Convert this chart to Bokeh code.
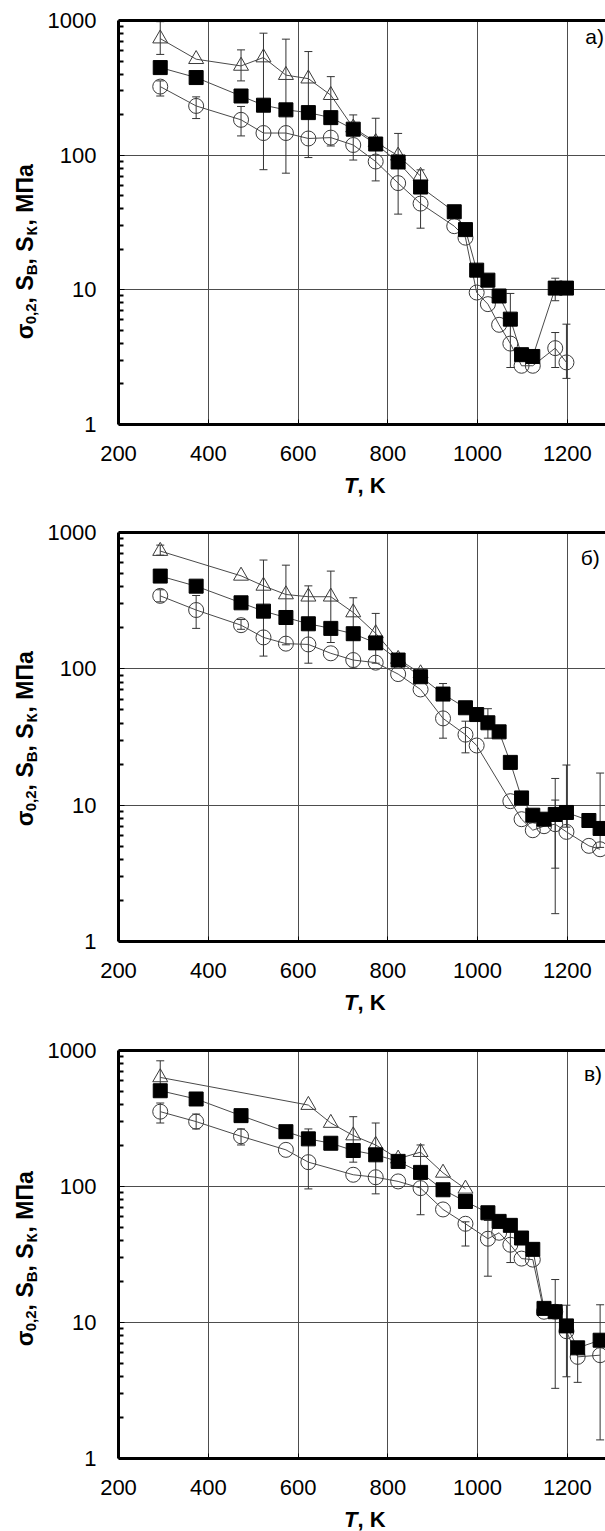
import numpy as np
from bokeh.plotting import figure
from bokeh.models import (ColumnDataSource, Whisker, TeeHead, Label, FixedTicker,
                          LinearAxis, CustomJSTickFormatter, Range1d)
from bokeh.layouts import column, row
from bokeh.embed import file_html
from bokeh.resources import INLINE

# ---------------- data ----------------
x_ticks = [200, 400, 600, 800, 1000, 1200]
y_ticks = [1, 10, 100, 1000]
panel_letters = ["а)", "б)", "в)"]

# panel а
a_sq_T = [293, 373, 473, 523, 573, 623, 673, 723, 773, 823, 873, 948, 973, 998, 1023, 1048, 1073, 1098, 1123, 1173, 1198]
a_sq = [447, 377, 275, 235, 217, 207, 190, 156, 121, 89, 58, 38, 28, 14, 11.8, 9.0, 6.06, 3.3, 3.2, 10.3, 10.3]
a_ci_T = [293, 373, 473, 523, 573, 623, 673, 723, 773, 823, 873, 948, 973, 998, 1023, 1048, 1073, 1098, 1123, 1173, 1198]
a_ci = [323, 232, 183, 146, 146, 133, 135, 119, 89.7, 62, 43.7, 29.7, 24.4, 9.55, 7.83, 5.5, 3.99, 2.73, 2.73, 3.69, 2.89]
a_tr_T = [293, 373, 473, 523, 573, 623, 673, 723, 773, 823, 873]
a_tr = [734, 516, 460, 531, 393, 370, 279, 160, 125, 99, 70]
a_err_T = [293, 293, 373, 473, 473, 523, 573, 623, 673, 723, 773, 823, 873, 1073, 1173, 1173, 1198]
a_err_lo = [560, 275, 187, 356, 139, 78, 73.5, 96, 117, 92, 64.4, 36.5, 28.7, 2.65, 8.3, 2.65, 2.2]
a_err_hi = [980, 356, 271, 605, 230, 805, 727, 588, 383, 199, 188, 145, 77.8, 9.4, 12.2, 4.82, 5.56]

# panel б
b_sq_T = [293, 373, 473, 523, 573, 623, 673, 723, 773, 823, 873, 923, 973, 998, 1023, 1048, 1073, 1098, 1123, 1148, 1173, 1198, 1248, 1273]
b_sq = [479, 404, 305, 265, 238, 214, 198, 181, 155, 116, 87.5, 65.3, 51.8, 46.2, 40.2, 34.5, 20.6, 11.3, 8.44, 7.89, 8.55, 8.84, 7.72, 6.75]
b_ci_T = [293, 373, 473, 523, 573, 623, 673, 723, 773, 823, 873, 923, 973, 998, 1073, 1098, 1123, 1148, 1173, 1198, 1248, 1273]
b_ci = [343, 270, 209, 170, 153, 151, 130, 116, 111, 91.5, 70.6, 43.3, 32.9, 27.4, 10.7, 7.89, 6.55, 7.01, 7.25, 6.37, 5.03, 4.75]
b_tr_T = [293, 473, 523, 573, 623, 673, 723, 773, 823, 873]
b_tr = [731, 481, 406, 351, 338, 338, 259, 182, 118, 92.5]
b_err_T = [293, 293, 373, 473, 523, 573, 623, 673, 723, 773, 923, 973, 1023, 1173, 1173, 1198, 1273]
b_err_lo = [682, 310, 198, 195, 124, 150, 110, 156, 101, 110, 31, 24.2, 31, 1.6, 3.45, 6.9, 4.9]
b_err_hi = [808, 380, 345, 230, 628, 576, 406, 521, 332, 255, 78, 41.3, 51, 15.7, 10.9, 19.7, 17.2]

# panel в
c_sq_T = [293, 373, 473, 573, 623, 673, 723, 773, 823, 873, 923, 973, 1023, 1048, 1073, 1098, 1123, 1148, 1173, 1198, 1223, 1273]
c_sq = [506, 440, 332, 253, 224, 208, 184, 171, 153, 127, 94.6, 77.6, 64.1, 55.4, 51.8, 41.8, 34.5, 12.7, 12.0, 9.44, 6.51, 7.41]
c_ci_T = [293, 373, 473, 573, 623, 723, 773, 823, 873, 923, 973, 1023, 1048, 1073, 1098, 1123, 1148, 1173, 1198, 1223, 1273]
c_ci = [355, 300, 234, 186, 151, 122, 117, 109, 97.3, 67.8, 53.2, 41.3, 45.7, 37.3, 29.5, 29.0, 12.0, 12.0, 8.63, 5.59, 5.75]
c_tr_T = [293, 623, 673, 723, 773, 823, 873, 923, 973]
c_tr = [634, 397, 293, 237, 202, 160, 179, 126, 96.2]
c_err_T = [293, 293, 373, 473, 623, 723, 773, 873, 973, 1023, 1073, 1173, 1198, 1223, 1273]
c_err_lo = [540, 293, 265, 202, 96, 151, 88.3, 62, 36.5, 21.9, 27.6, 3.28, 3.99, 3.63, 1.37]
c_err_hi = [840, 411, 341, 265, 265, 326, 293, 202, 55, 56.3, 46.8, 20.7, 13.4, 7.0, 13.5]

# ---------------- layout constants ----------------
PAGE_W = 605
YLAB_W = 42
MAIN_W = PAGE_W - YLAB_W
BORDER_L = 76                # frame left at page x 118
X0, X1 = 200, 1285
FONT = "Liberation Sans"
BOTTOM = 48

CHAR_W = {"σ": 0.62, "0": 0.556, "2": 0.556, ",": 0.278, " ": 0.278, "S": 0.667,
          "В": 0.722, "К": 0.722, "М": 0.833, "П": 0.722, "а": 0.556}
MID = 0.3465   # em distance from baseline to the middle of the font box


def blank_fig(w, h, top=0, bottom=0):
    fh = h - top - bottom
    f = figure(width=w, height=h, x_range=Range1d(0, w), y_range=Range1d(0, fh),
               x_axis_type=None, y_axis_type=None, output_backend="svg",
               toolbar_location=None, min_border=0, min_border_left=0,
               min_border_right=0, min_border_top=top, min_border_bottom=bottom)
    f.outline_line_color = None
    f.xgrid.visible = False
    f.ygrid.visible = False
    return f


def ylabel_fig(h, top, bottom, start_from_frame_top):
    # frame of this figure lines up with the frame of the neighbouring plot
    f = blank_fig(YLAB_W, h, top, bottom)
    fh = h - top - bottom
    big, small = 23, 15
    base_big, base_sub = 32.5, 36.0
    segs = [("σ", False), ("0,2", True), (", S", False), ("В", True),
            (", S", False), ("К", True), (", МПа", False)]
    off = 0.0
    for txt, sub in segs:
        fs = small if sub else big
        w = sum(CHAR_W.get(ch, 0.6) for ch in txt) * fs
        cy = start_from_frame_top - (off + w / 2.0)
        cx = (base_sub if sub else base_big) - MID * fs
        f.add_layout(Label(x=cx, y=fh - cy, text=txt, angle=np.pi / 2,
                           text_font=FONT, text_font_size=f"{fs}px",
                           text_font_style="bold", text_color="black",
                           text_align="center", text_baseline="middle"))
        off += w
    return f


def xlabel_fig(h, center_from_top):
    f = blank_fig(PAGE_W, h)
    yy = h - center_from_top
    f.add_layout(Label(x=343.5, y=yy, text="T", text_font=FONT, text_font_size="22px",
                       text_font_style="bold italic", text_color="black",
                       text_align="left", text_baseline="middle"))
    f.add_layout(Label(x=343.5 + 0.611 * 22, y=yy, text=", K", text_font=FONT,
                       text_font_size="22px", text_font_style="bold", text_color="black",
                       text_align="left", text_baseline="middle"))
    return f


def main_fig(sqT, sq, ciT, ci, trT, tr, eT, elo, ehi, letter, h, top, bottom, letter_pos):
    p = figure(width=MAIN_W, height=h, x_range=Range1d(X0, X1), y_range=Range1d(1, 1000),
               y_axis_type="log", output_backend="svg", toolbar_location=None,
               min_border_left=BORDER_L, min_border_right=0, min_border_top=top,
               min_border_bottom=bottom)
    p.outline_line_color = None
    p.background_fill_color = "white"

    p.xgrid.ticker = FixedTicker(ticks=x_ticks)
    p.ygrid.ticker = FixedTicker(ticks=y_ticks)
    for g in (p.xgrid, p.ygrid):
        g.grid_line_color = "#4d4d4d"
        g.grid_line_width = 1
        g.grid_line_alpha = 1.0

    xa = p.xaxis[0]
    xa.ticker = FixedTicker(ticks=x_ticks, minor_ticks=[])
    xa.axis_line_width = 3
    xa.axis_line_color = "black"
    xa.major_tick_in = 5
    xa.major_tick_out = 0
    xa.major_tick_line_color = "black"
    xa.major_label_text_font = FONT
    xa.major_label_text_font_size = "22px"
    xa.major_label_text_color = "black"
    xa.major_label_standoff = 21

    ya = p.yaxis[0]
    minors = [m * d for d in (1, 10, 100) for m in range(2, 10)]
    ya.ticker = FixedTicker(ticks=y_ticks, minor_ticks=minors)
    ya.formatter = CustomJSTickFormatter(code="return String(Math.round(tick));")
    ya.axis_line_width = 3
    ya.axis_line_color = "black"
    ya.major_tick_in = 6
    ya.major_tick_out = 0
    ya.minor_tick_in = 5
    ya.minor_tick_out = 0
    ya.major_tick_line_color = "black"
    ya.minor_tick_line_color = "black"
    ya.minor_tick_line_width = 2
    ya.major_label_text_font = FONT
    ya.major_label_text_font_size = "22px"
    ya.major_label_text_color = "black"
    ya.major_label_standoff = 22

    top_ax = LinearAxis(ticker=FixedTicker(ticks=[]), axis_line_width=3, axis_line_color="black",
                        major_tick_in=0, major_tick_out=0, minor_tick_in=0, minor_tick_out=0,
                        major_label_text_font_size="0px", major_label_standoff=0)
    p.add_layout(top_ax, "above")

    line_col = "#4a4a4a"
    mark_col = "#3a3a3a"

    p.line(trT, tr, line_color=line_col, line_width=1)
    p.line(sqT, sq, line_color=line_col, line_width=1)
    p.line(ciT, ci, line_color=line_col, line_width=1)

    esrc = ColumnDataSource(dict(x=eT, lo=elo, hi=ehi))
    p.add_layout(Whisker(source=esrc, base="x", lower="lo", upper="hi",
                         line_color="#333333", line_width=1,
                         lower_head=TeeHead(size=8, line_color="#333333", line_width=1),
                         upper_head=TeeHead(size=8, line_color="#333333", line_width=1)))

    p.scatter(trT, tr, marker="triangle", size=15, fill_color=None,
              line_color=mark_col, line_width=1)
    p.scatter(ciT, ci, marker="circle", size=15, fill_color=None,
              line_color=mark_col, line_width=1)
    p.scatter(sqT, sq, marker="square", size=14, fill_color="black",
              line_color="black", line_width=1)

    p.add_layout(Label(x=letter_pos[0], y=letter_pos[1], text=letter, text_font=FONT,
                       text_font_size="21px", text_color="black",
                       text_align="left", text_baseline="middle"))
    return p


# panel а : page 0..520 (frame 20..424)
ma = main_fig(a_sq_T, a_sq, a_ci_T, a_ci, a_tr_T, a_tr, a_err_T, a_err_lo, a_err_hi,
              panel_letters[0], h=20 + 404 + BOTTOM, top=20, bottom=BOTTOM, letter_pos=(1240, 755))
ya_f = ylabel_fig(20 + 404 + BOTTOM, 20, BOTTOM, 318)
xa_f = xlabel_fig(520 - (20 + 404 + BOTTOM), 13)

# panel б : page 520..1038 (frame 532..941)
mb = main_fig(b_sq_T, b_sq, b_ci_T, b_ci, b_tr_T, b_tr, b_err_T, b_err_lo, b_err_hi,
              panel_letters[1], h=12 + 409 + BOTTOM, top=12, bottom=BOTTOM, letter_pos=(1230, 660))
yb_f = ylabel_fig(12 + 409 + BOTTOM, 12, BOTTOM, 293)
xb_f = xlabel_fig(518 - (12 + 409 + BOTTOM), 12.5)

# panel в : page 1038..1531 (frame 1050..1458)
mc = main_fig(c_sq_T, c_sq, c_ci_T, c_ci, c_tr_T, c_tr, c_err_T, c_err_lo, c_err_hi,
              panel_letters[2], h=12 + 408 + BOTTOM, top=12, bottom=BOTTOM, letter_pos=(1237, 675))
yc_f = ylabel_fig(12 + 408 + BOTTOM, 12, BOTTOM, 295)
xc_f = xlabel_fig(493 - (12 + 408 + BOTTOM), 12.5)

layout = column(row(ya_f, ma, spacing=0), xa_f,
                row(yb_f, mb, spacing=0), xb_f,
                row(yc_f, mc, spacing=0), xc_f, spacing=0)
open("out.html", "w").write(file_html(layout, INLINE))
